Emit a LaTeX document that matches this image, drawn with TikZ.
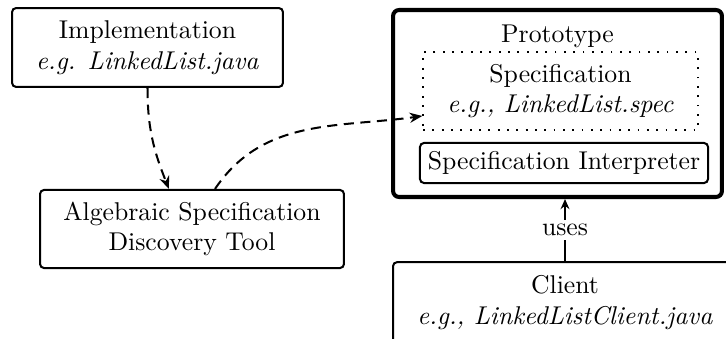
\documentclass[tikz,border=0pt]{standalone}
\usetikzlibrary{arrows.meta}
\begin{document}
\begin{tikzpicture}[x=0.3968pt,y=-0.3968pt,
  every node/.style={font=\fontsize{10.2pt}{12.1pt}\selectfont},
  box/.style={draw,thick,rounded corners=1.6pt,align=center,inner sep=0pt},
  outer/.style={draw,ultra thick,rounded corners=2.4pt,inner sep=0pt},
  dotbox/.style={draw,line width=0.7pt,dash pattern=on 0.7pt off 3pt,align=center,inner sep=0pt},
  flow/.style={thick,dash pattern=on 4pt off 2.6pt,-{Stealth[length=5pt,width=4pt]}},
  solidarrow/.style={thick,-{Stealth[length=4pt,width=3.5pt]}}]
  \useasboundingbox (0,0) rectangle (726,339);

  \node[box,minimum width=107.5pt,minimum height=31.3pt] (impl) at (147.5,47.5)
    {Implementation\\ \textit{e.g. LinkedList.java}};

  \node[box,minimum width=120.6pt,minimum height=31pt] (tool) at (192,229)
    {Algebraic Specification\\ Discovery Tool};

  \node[outer,minimum width=130.5pt,minimum height=74.2pt] (proto) at (557.5,103.5) {};
  \node (protolabel) at (557.5,36) {Prototype};
  \node[dotbox,minimum width=109pt,minimum height=31pt] (spec) at (560.5,91)
    {Specification\\ \textit{e.g., LinkedList.spec}};
  \node[box,minimum width=114.3pt,minimum height=15.9pt] (interp) at (564,163)
    {Specification Interpreter};

  \node[box,minimum width=136.5pt,minimum height=32pt] (client) at (565,302.5)
    {Client\\ \textit{e.g., LinkedListClient.java}};

  \draw[flow] (impl.south) to[out=-90,in=112] (tool.north -| 169,0);
  \draw[flow] (tool.north -| 215,0) to[out=56,in=188] (spec.west |- 0,116);
  \draw[solidarrow] (client.north) -- node[fill=white,inner sep=1.5pt] (uses) {uses} (client.north |- proto.south);
\end{tikzpicture}
\end{document}
